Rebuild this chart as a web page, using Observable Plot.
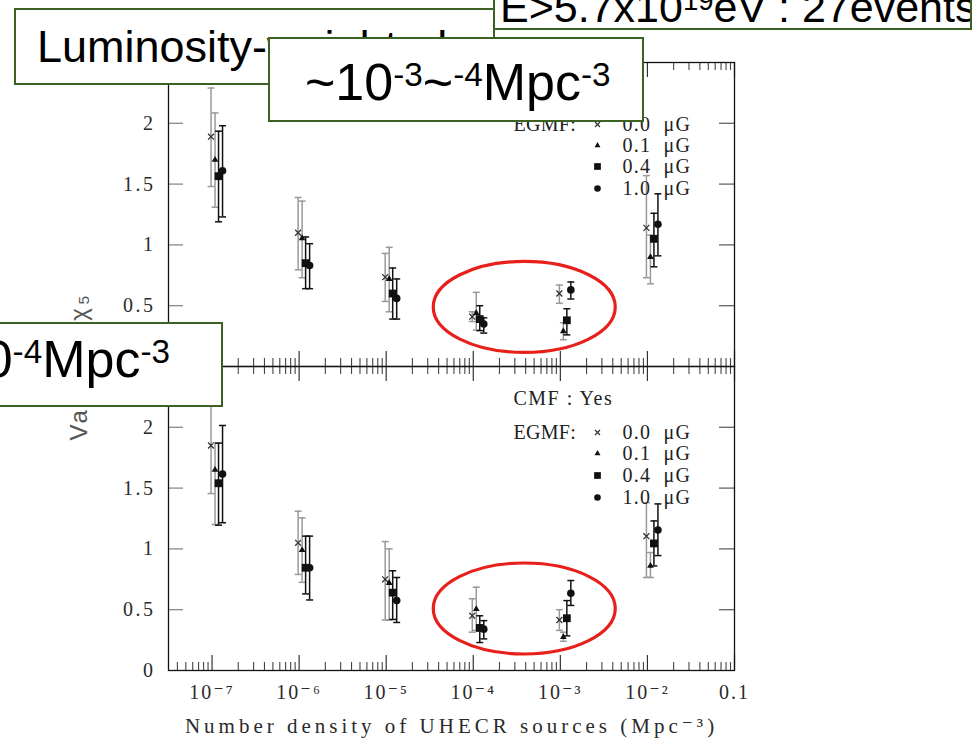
<!DOCTYPE html>
<html>
<head>
<meta charset="utf-8">
<script src="https://cdn.jsdelivr.net/npm/d3@7"></script>
<script src="https://cdn.jsdelivr.net/npm/@observablehq/plot@0.6"></script>
<style>
  html, body { margin:0; padding:0; background:#fff; }
  #wrap { position:relative; width:974px; height:745px; overflow:hidden; background:#fff; }
  #chart svg { display:block; }
  .box { position:absolute; background:#fff; border:2px solid #3c6122; box-sizing:border-box; overflow:hidden; }
  .box span { position:absolute; white-space:nowrap; font-family:"Liberation Sans", Arial, sans-serif; color:#000; line-height:1; }
  .box sup { font-size:0.64em; vertical-align:0.42em; line-height:0; }
  g[aria-label="x-axis tick label"] text { letter-spacing:2px; }
  g[aria-label="y-axis tick label"] text { letter-spacing:2.5px; }
  text[aria-label="xlab"] { letter-spacing:4px; }
  text[aria-label="ylab"] { letter-spacing:3px; }
  text[aria-label="legend-text"] { letter-spacing:1.2px; }
  text[aria-label="egmf-text"] { letter-spacing:0.3px; }
  text[aria-label="cmf-text"] { letter-spacing:1.5px; }
</style>
</head>
<body>
<div id="wrap">
  <div id="chart"></div>
  <div class="box" style="left:14px;top:8px;width:481px;height:77px;"><span style="left:21px;top:14px;font-size:45px;">Luminosity-weighted</span></div>
  <div class="box" style="left:493px;top:-20px;width:479px;height:50px;"><span style="left:5px;top:4px;font-size:43px;">E&gt;5.7x10<sup>19</sup>eV : 27events</span></div>
  <div class="box" style="left:268px;top:37px;width:376px;height:85px;"><span style="left:35px;top:17px;font-size:52px;">~10<sup>-3</sup>~<sup>-4</sup>Mpc<sup>-3</sup></span></div>
  <div class="box" style="left:-15px;top:322px;width:238px;height:85px;"><span style="right:51px;top:9px;font-size:52px;">~10<sup>-4</sup>Mpc<sup>-3</sup></span></div>
</div>
<script>
// ---------------- data ----------------
const densities = [1e-7, 1e-6, 1e-5, 1e-4, 1e-3, 1e-2];
const panels = ["No", "Yes"];
const panelLabels = ["CMF : No", "CMF : Yes"];
const egmfLabels = ["0.0\u00a0\u00a0μG", "0.1\u00a0\u00a0μG", "0.4\u00a0\u00a0μG", "1.0\u00a0\u00a0μG"];

// Upper panel: CMF No
const noCMF_00_val = [1.89, 1.10, 0.735, 0.41, 0.60, 1.14];
const noCMF_00_lo  = [1.48, 0.795, 0.535, 0.37, 0.52, 0.73];
const noCMF_00_hi  = [2.29, 1.39, 0.93, 0.45, 0.67, 1.57];
const noCMF_01_val = [1.70, 1.055, 0.72, 0.44, 0.29, 0.90];
const noCMF_01_lo  = [1.31, 0.73, 0.45, 0.30, 0.22, 0.68];
const noCMF_01_hi  = [2.085, 1.36, 0.98, 0.61, 0.36, 1.08];
const noCMF_04_val = [1.565, 0.85, 0.60, 0.39, 0.38, 1.05];
const noCMF_04_lo  = [1.19, 0.64, 0.39, 0.295, 0.26, 0.82];
const noCMF_04_hi  = [1.935, 1.065, 0.81, 0.50, 0.475, 1.26];
const noCMF_10_val = [1.61, 0.83, 0.56, 0.35, 0.63, 1.17];
const noCMF_10_lo  = [1.23, 0.64, 0.39, 0.275, 0.555, 0.91];
const noCMF_10_hi  = [1.98, 1.01, 0.72, 0.40, 0.695, 1.42];

// Lower panel: CMF Yes
const yesCMF_00_val = [1.85, 1.05, 0.75, 0.45, 0.415, 1.105];
const yesCMF_00_lo  = [1.455, 0.79, 0.415, 0.315, 0.33, 0.765];
const yesCMF_00_hi  = [2.25, 1.31, 1.06, 0.59, 0.50, 1.38];
const yesCMF_01_val = [1.65, 0.99, 0.72, 0.505, 0.275, 0.86];
const yesCMF_01_lo  = [1.20, 0.725, 0.415, 0.33, 0.24, 0.765];
const yesCMF_01_hi  = [1.87, 1.255, 1.0, 0.685, 0.315, 0.97];
const yesCMF_04_val = [1.54, 0.845, 0.64, 0.35, 0.43, 1.045];
const yesCMF_04_lo  = [1.195, 0.63, 0.42, 0.23, 0.285, 0.86];
const yesCMF_04_hi  = [1.87, 1.105, 0.82, 0.45, 0.575, 1.23];
const yesCMF_10_val = [1.615, 0.845, 0.575, 0.34, 0.635, 1.155];
const yesCMF_10_lo  = [1.215, 0.58, 0.395, 0.26, 0.535, 0.945];
const yesCMF_10_hi  = [2.015, 1.105, 0.765, 0.41, 0.74, 1.37];

// axes
const xTickValues = [1e-7, 1e-6, 1e-5, 1e-4, 1e-3, 1e-2, 0.1];
const xTickLabels = ["10⁻⁷", "10⁻⁶", "10⁻⁵", "10⁻⁴", "10⁻³", "10⁻²", "0.1"];
const yTickValues = [0, 0.5, 1, 1.5, 2];
const yTickLabels = ["0", "0.5", "1", "1.5", "2"];
const xLabel = "Number density of UHECR sources (Mpc⁻³)";
const yLabel = "Value of χ₅";

// highlighted regions (red rings), data coordinates
const ringPanel = ["No", "Yes"];
const ringX = [3.85e-4, 3.85e-4];
const ringY = [0.49, 0.51];

// ---------------- build table ----------------
const seriesArrays = {
  No:  [[noCMF_00_val, noCMF_00_lo, noCMF_00_hi], [noCMF_01_val, noCMF_01_lo, noCMF_01_hi],
        [noCMF_04_val, noCMF_04_lo, noCMF_04_hi], [noCMF_10_val, noCMF_10_lo, noCMF_10_hi]],
  Yes: [[yesCMF_00_val, yesCMF_00_lo, yesCMF_00_hi], [yesCMF_01_val, yesCMF_01_lo, yesCMF_01_hi],
        [yesCMF_04_val, yesCMF_04_lo, yesCMF_04_hi], [yesCMF_10_val, yesCMF_10_lo, yesCMF_10_hi]]
};
const rows = [];
panels.forEach(p => seriesArrays[p].forEach(([v, lo, hi], s) =>
  densities.forEach((d, i) => rows.push({panel: p, s, x: d, y: v[i], lo: lo[i], hi: hi[i]}))));
const rings = ringPanel.map((p, i) => ({panel: p, x: ringX[i], y: ringY[i]}));

// ---------------- styles ----------------
const FH = 304, FW = 566;
const symbols = ["times", "triangle", "square", "circle"];
const symR = [2.8, 2.5, 4.4, 3.8];
const legR = [2.4, 2.2, 3.8, 3.3];
const barColor = ["#999", "#999", "#111", "#111"];
const dxOff = [-1, 3, 6.5, 10.5];
const legDyByPanel = {No: [62, 83, 104, 126], Yes: [66, 87, 109, 131]};
const cmfDyByPanel = {No: 28, Yes: 32};

const capSym = {draw(ctx) { ctx.moveTo(-3.5, 0); ctx.lineTo(3.5, 0); }};
const ringSym = {draw(ctx) {
  const rx = 91, ry = 45.5, k = 0.5523;
  ctx.moveTo(rx, 0);
  ctx.bezierCurveTo(rx, k * ry, k * rx, ry, 0, ry);
  ctx.bezierCurveTo(-k * rx, ry, -rx, k * ry, -rx, 0);
  ctx.bezierCurveTo(-rx, -k * ry, -k * rx, -ry, 0, -ry);
  ctx.bezierCurveTo(k * rx, -ry, rx, -k * ry, rx, 0);
  ctx.closePath();
}};

const allTicks = d3.scaleLog().domain([10 ** -7.5, 0.1]).ticks();
const isMajor = d => Math.abs(Math.log10(d) - Math.round(Math.log10(d))) < 1e-6;
const majorTicks = allTicks.filter(isMajor);
const minorTicks = allTicks.filter(d => !isMajor(d));

const marks = [
  Plot.tickX(majorTicks, {x: d => d, insetBottom: FH - 15, stroke: "#333", strokeWidth: 1.2}),
  Plot.tickX(majorTicks, {x: d => d, insetTop: FH - 15, stroke: "#333", strokeWidth: 1.2}),
  Plot.tickX(minorTicks, {x: d => d, insetBottom: FH - 8, stroke: "#444", strokeWidth: 1.1}),
  Plot.tickX(minorTicks, {x: d => d, insetTop: FH - 8, stroke: "#444", strokeWidth: 1.1}),
  Plot.tickY(yTickValues.slice(1), {y: d => d, insetRight: FW - 15, stroke: "#8a8a8a", strokeWidth: 1.3}),
  Plot.tickY(yTickValues.slice(1), {y: d => d, insetLeft: FW - 15, stroke: "#666", strokeWidth: 1.3}),
  Plot.frame({stroke: "#111", strokeWidth: 1.3}),
  Plot.axisX({ticks: xTickValues, tickFormat: d => xTickLabels[xTickValues.indexOf(d)], tickSize: 0, tickPadding: 14, label: null, fill: "#2a2a2a"}),
  Plot.axisY({ticks: yTickValues, tickFormat: d => yTickLabels[yTickValues.indexOf(d)], tickSize: 0, tickPadding: 13, label: null, fill: "#2a2a2a"}),
  Plot.text([{panel: "Yes"}], {fy: "panel", text: () => xLabel, frameAnchor: "bottom", lineAnchor: "middle", dy: 56, fontSize: 21,
    fill: "#2a2a2a", ariaLabel: () => "xlab"}),
  Plot.text([{panel: "Yes"}], {fy: "panel", text: () => yLabel, frameAnchor: "top-left", lineAnchor: "middle", dx: -89, rotate: -90, textAnchor: "middle",
    fontFamily: "'Liberation Sans', Arial, sans-serif", fontSize: 24, fill: "#555", ariaLabel: () => "ylab"})
];

symbols.forEach((sym, s) => {
  const data = rows.filter(r => r.s === s);
  marks.push(
    Plot.ruleX(data, {x: "x", y1: "lo", y2: "hi", fy: "panel", dx: dxOff[s], stroke: barColor[s], strokeWidth: 1.5}),
    Plot.dot(data, {x: "x", y: "lo", fy: "panel", dx: dxOff[s], symbol: capSym, stroke: barColor[s], strokeWidth: 1.5, fill: "none"}),
    Plot.dot(data, {x: "x", y: "hi", fy: "panel", dx: dxOff[s], symbol: capSym, stroke: barColor[s], strokeWidth: 1.5, fill: "none"}),
    s === 0
      ? Plot.dot(data, {x: "x", y: "y", fy: "panel", dx: dxOff[s], symbol: sym, r: symR[s], stroke: "#333", strokeWidth: 1.3})
      : Plot.dot(data, {x: "x", y: "y", fy: "panel", dx: dxOff[s], symbol: sym, r: symR[s], fill: "#111", stroke: "none"})
  );
});

// legends, one per panel
panels.forEach((p, pi) => {
  const pd = [{panel: p}];
  const dys = legDyByPanel[p];
  marks.push(
    Plot.text(pd, {fy: "panel", frameAnchor: "top-left", lineAnchor: "middle", dx: 345, dy: cmfDyByPanel[p], text: () => panelLabels[pi],
      textAnchor: "start", fontSize: 20, fill: "#222", ariaLabel: () => "cmf-text"}),
    Plot.text(pd, {fy: "panel", frameAnchor: "top-left", lineAnchor: "middle", dx: 345, dy: dys[0], text: () => "EGMF:",
      textAnchor: "start", fontSize: 20, fill: "#222", ariaLabel: () => "egmf-text"})
  );
  symbols.forEach((sym, s) => {
    marks.push(
      s === 0
        ? Plot.dot(pd, {fy: "panel", frameAnchor: "top-left", dx: 429, dy: dys[s], symbol: sym, r: legR[s], stroke: "#333", strokeWidth: 1.2})
        : Plot.dot(pd, {fy: "panel", frameAnchor: "top-left", dx: 429, dy: dys[s], symbol: sym, r: legR[s], fill: "#111", stroke: "none"}),
      Plot.text(pd, {fy: "panel", frameAnchor: "top-left", lineAnchor: "middle", dx: 454, dy: dys[s], text: () => egmfLabels[s],
        textAnchor: "start", fontSize: 20, fill: "#222", ariaLabel: () => "legend-text"})
    );
  });
});

marks.push(
  Plot.dot(rings, {x: "x", y: "y", fy: "panel", symbol: ringSym, r: 10, stroke: "#e8201c", strokeWidth: 3.2, fill: "none"})
);

const chart = Plot.plot({
  width: 974, height: 745,
  marginLeft: 168, marginRight: 240, marginTop: 62, marginBottom: 75,
  style: {fontFamily: "'Liberation Serif', 'DejaVu Serif', serif", fontSize: "20px", background: "#fff", overflow: "visible"},
  x: {type: "log", domain: [10 ** -7.5, 0.1]},
  y: {domain: [0, 2.5]},
  fy: {domain: panels, padding: 0, axis: null},
  marks
});
document.getElementById("chart").appendChild(chart);
</script>
</body>
</html>
